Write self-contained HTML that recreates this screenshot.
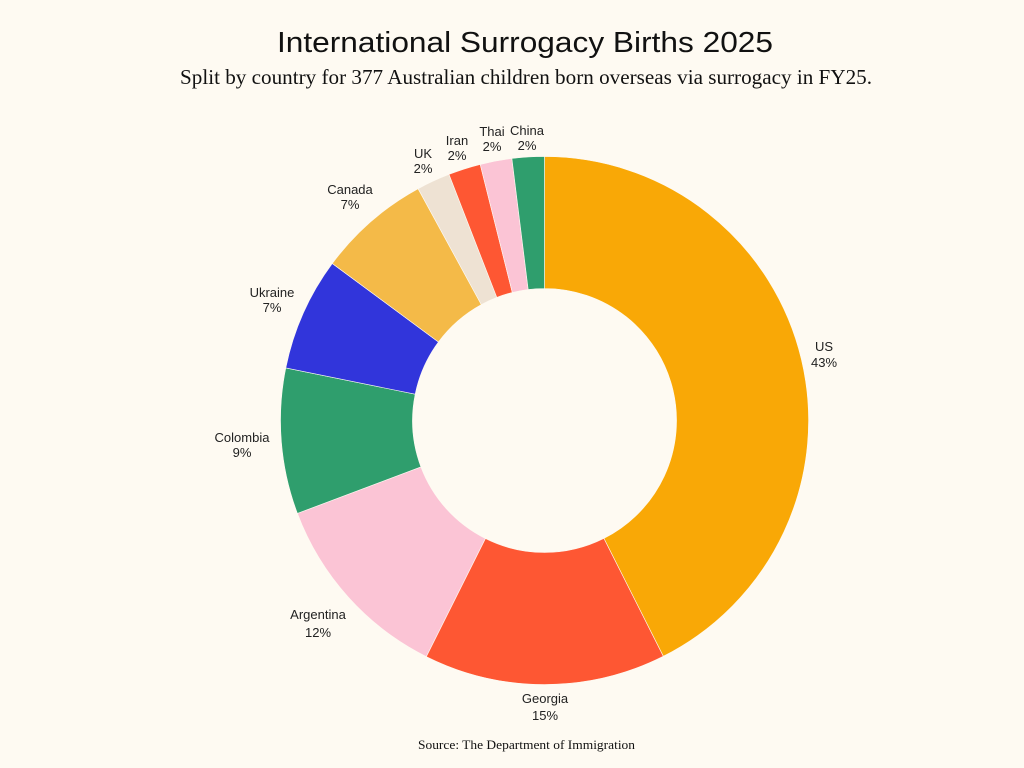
<!DOCTYPE html>
<html>
<head>
<meta charset="utf-8">
<style>
  html, body { margin: 0; padding: 0; background: #FEFAF2; }
  svg { display: block; }
</style>
</head>
<body>
<svg width="1024" height="768" viewBox="0 0 1024 768" xmlns="http://www.w3.org/2000/svg">
  <rect width="1024" height="768" fill="#FEFAF2"/>

  <text x="277" y="52" font-family="Liberation Sans, sans-serif" font-size="29" fill="#111" textLength="496" lengthAdjust="spacingAndGlyphs">International Surrogacy Births 2025</text>
  <text x="180" y="84" font-family="Liberation Serif, serif" font-size="21" fill="#111" textLength="692" lengthAdjust="spacingAndGlyphs">Split by country for 377 Australian children born overseas via surrogacy in FY25.</text>

  <g stroke="#FEFAF2" stroke-width="0.6">
    <!-- US -->
    <path d="M544.5,156.5 A264,264 0 0 1 663.3,656.3 L603.9,538.4 A132,132 0 0 0 544.5,288.5 Z" fill="#F9A806"/>
    <!-- Georgia -->
    <path d="M663.3,656.3 A264,264 0 0 1 426.3,656.6 L485.4,538.5 A132,132 0 0 0 603.9,538.4 Z" fill="#FE5733"/>
    <!-- Argentina -->
    <path d="M426.3,656.6 A264,264 0 0 1 297.4,513.4 L420.9,466.9 A132,132 0 0 0 485.4,538.5 Z" fill="#FBC4D5"/>
    <!-- Colombia -->
    <path d="M297.4,513.4 A264,264 0 0 1 285.8,367.9 L415.2,394.2 A132,132 0 0 0 420.9,466.9 Z" fill="#2F9E6D"/>
    <!-- Ukraine -->
    <path d="M285.8,367.9 A264,264 0 0 1 332.3,263.5 L438.4,342.0 A132,132 0 0 0 415.2,394.2 Z" fill="#3135DB"/>
    <!-- Canada -->
    <path d="M332.3,263.5 A264,264 0 0 1 418.1,188.7 L481.3,304.6 A132,132 0 0 0 438.4,342.0 Z" fill="#F4BA48"/>
    <!-- UK -->
    <path d="M418.1,188.7 A264,264 0 0 1 449.0,174.4 L496.8,297.4 A132,132 0 0 0 481.3,304.6 Z" fill="#EEE2D3"/>
    <!-- Iran -->
    <path d="M449.0,174.4 A264,264 0 0 1 480.2,164.4 L512.3,292.5 A132,132 0 0 0 496.8,297.4 Z" fill="#FE5733"/>
    <!-- Thai -->
    <path d="M480.2,164.4 A264,264 0 0 1 511.9,158.5 L528.2,289.5 A132,132 0 0 0 512.3,292.5 Z" fill="#FBC4D5"/>
    <!-- China -->
    <path d="M511.9,158.5 A264,264 0 0 1 544.5,156.5 L544.5,288.5 A132,132 0 0 0 528.2,289.5 Z" fill="#2F9E6D"/>
  </g>

  <g font-family="Liberation Sans, sans-serif" font-size="13" fill="#222" text-anchor="middle">
    <text x="824" y="351">US</text>
    <text x="824" y="367">43%</text>

    <text x="545" y="703">Georgia</text>
    <text x="545" y="720">15%</text>

    <text x="318" y="619">Argentina</text>
    <text x="318" y="637">12%</text>

    <text x="242" y="442">Colombia</text>
    <text x="242" y="457">9%</text>

    <text x="272" y="297">Ukraine</text>
    <text x="272" y="312">7%</text>

    <text x="350" y="194">Canada</text>
    <text x="350" y="209">7%</text>

    <text x="423" y="158">UK</text>
    <text x="423" y="173">2%</text>

    <text x="457" y="145">Iran</text>
    <text x="457" y="160">2%</text>

    <text x="492" y="136">Thai</text>
    <text x="492" y="151">2%</text>

    <text x="527" y="135">China</text>
    <text x="527" y="150">2%</text>
  </g>

  <text x="418" y="749" font-family="Liberation Serif, serif" font-size="12.5" fill="#111" textLength="217" lengthAdjust="spacingAndGlyphs">Source: The Department of Immigration</text>
</svg>
</body>
</html>
